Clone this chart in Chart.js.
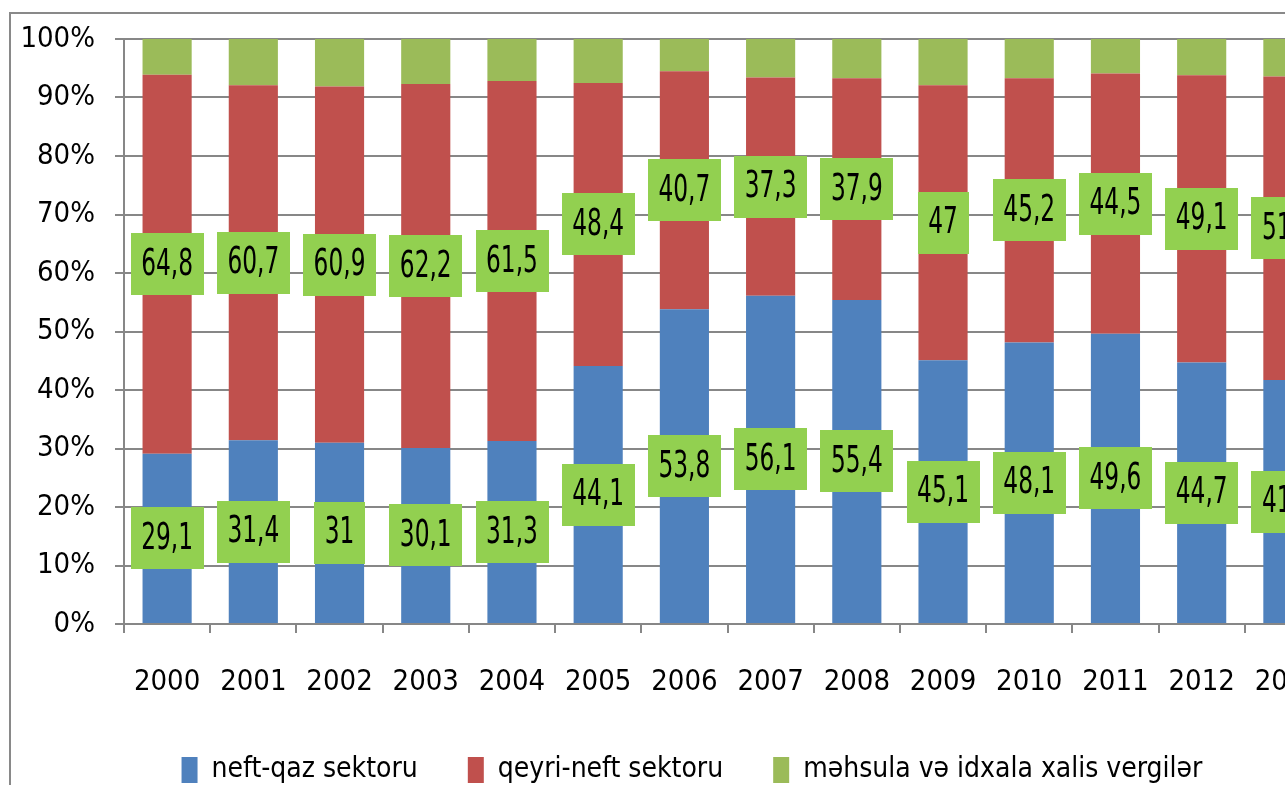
<!DOCTYPE html>
<html>
<head>
<meta charset="utf-8">
<script src="https://cdn.jsdelivr.net/npm/chart.js@4.4.0/dist/chart.umd.min.js"></script>
<style>
  html, body { margin: 0; padding: 0; background: #fff; overflow: hidden; }
  #frame {
    position: absolute; left: 9px; top: 12px;
    width: 1362px; height: 800px;
    border-left: 2px solid #898989; border-top: 2px solid #898989;
  }
  #chart { display: block; }
</style>
</head>
<body>
<div id="frame"><canvas id="chart" width="1362" height="780"></canvas></div>
<script>
// ---- data (pay, %) ----
const years = ['2000','2001','2002','2003','2004','2005','2006','2007','2008','2009','2010','2011','2012','2013'];
const neftQaz = [29.1, 31.4, 31, 30.1, 31.3, 44.1, 53.8, 56.1, 55.4, 45.1, 48.1, 49.6, 44.7, 41.7];
const qeyriNeft = [64.8, 60.7, 60.9, 62.2, 61.5, 48.4, 40.7, 37.3, 37.9, 47, 45.2, 44.5, 49.1, 51.9];
const vergiler = [6.1, 7.9, 8.1, 7.7, 7.2, 7.5, 5.5, 6.6, 6.7, 7.9, 6.7, 5.9, 6.2, 6.4];
const yTicks = [0, 10, 20, 30, 40, 50, 60, 70, 80, 90, 100];

const FONT = "'DejaVu Sans Condensed', 'Liberation Sans', sans-serif";
const GRID = '#878787';

// yaşıl qutularda dəyərlər
const boxLabels = {
  id: 'boxLabels',
  afterDatasetsDraw(chart) {
    const ctx = chart.ctx;
    ctx.save();
    ctx.font = '37px ' + FONT;
    ctx.textAlign = 'center';
    ctx.textBaseline = 'middle';
    const sx = 0.70;
    [0, 1].forEach(di => {
      const meta = chart.getDatasetMeta(di);
      const vals = chart.data.datasets[di].data;
      meta.data.forEach((bar, i) => {
        const txt = String(vals[i]).replace('.', ',');
        const w = ctx.measureText(txt).width * sx + 21;
        const h = 62;
        const cx = bar.x;
        const cy = (bar.y + bar.base) / 2;
        ctx.fillStyle = '#92D050';
        ctx.fillRect(Math.round(cx - w / 2), Math.round(cy - h / 2), Math.round(w), h);
        ctx.fillStyle = '#000';
        ctx.save();
        ctx.translate(cx, cy + 1);
        ctx.scale(sx, 1);
        ctx.fillText(txt, 0, 0);
        ctx.restore();
      });
    });
    ctx.restore();
  }
};

// oxların əlavə boşluqlarını təyin et
function setPad(axis, right) {
  axis.paddingTop = 0;
  axis.paddingBottom = 0;
  axis.paddingLeft = 0;
  axis.paddingRight = right;
}

new Chart(document.getElementById('chart'), {
  type: 'bar',
  data: {
    labels: years,
    datasets: [
      { label: 'neft-qaz sektoru', data: neftQaz, backgroundColor: '#4F81BD' },
      { label: 'qeyri-neft sektoru', data: qeyriNeft, backgroundColor: '#C0504D' },
      { label: 'məhsula və idxala xalis vergilər', data: vergiler, backgroundColor: '#9BBB59' }
    ]
  },
  options: {
    responsive: false,
    animation: false,
    categoryPercentage: 1,
    barPercentage: 0.57,
    layout: { padding: { top: 25, right: 0, left: 0, bottom: 0 } },
    scales: {
      x: {
        stacked: true,
        grid: { drawOnChartArea: false, drawTicks: true, tickLength: 9, offset: true, color: GRID, lineWidth: 2 },
        border: { display: true, color: GRID, width: 2 },
        ticks: { color: '#000', font: { family: FONT, size: 29 }, padding: 32, maxRotation: 0 },
        afterFit(axis) { axis.height = 82; setPad(axis, 42); }
      },
      y: {
        stacked: true,
        min: 0,
        max: 100,
        afterBuildTicks(axis) { axis.ticks = yTicks.map(v => ({ value: v })); },
        grid: { color: GRID, lineWidth: 2, tickLength: 9 },
        border: { display: true, color: GRID, width: 2 },
        ticks: { color: '#000', font: { family: FONT, size: 29 }, padding: 20, callback: v => v + '%' },
        afterFit(axis) { axis.width = 113; setPad(axis, 0); }
      }
    },
    plugins: {
      legend: {
        position: 'bottom',
        labels: { color: '#000', font: { family: FONT, size: 28 }, boxWidth: 16, boxHeight: 26, padding: 50 }
      },
      tooltip: { enabled: false }
    }
  },
  plugins: [boxLabels]
});
</script>
</body>
</html>
